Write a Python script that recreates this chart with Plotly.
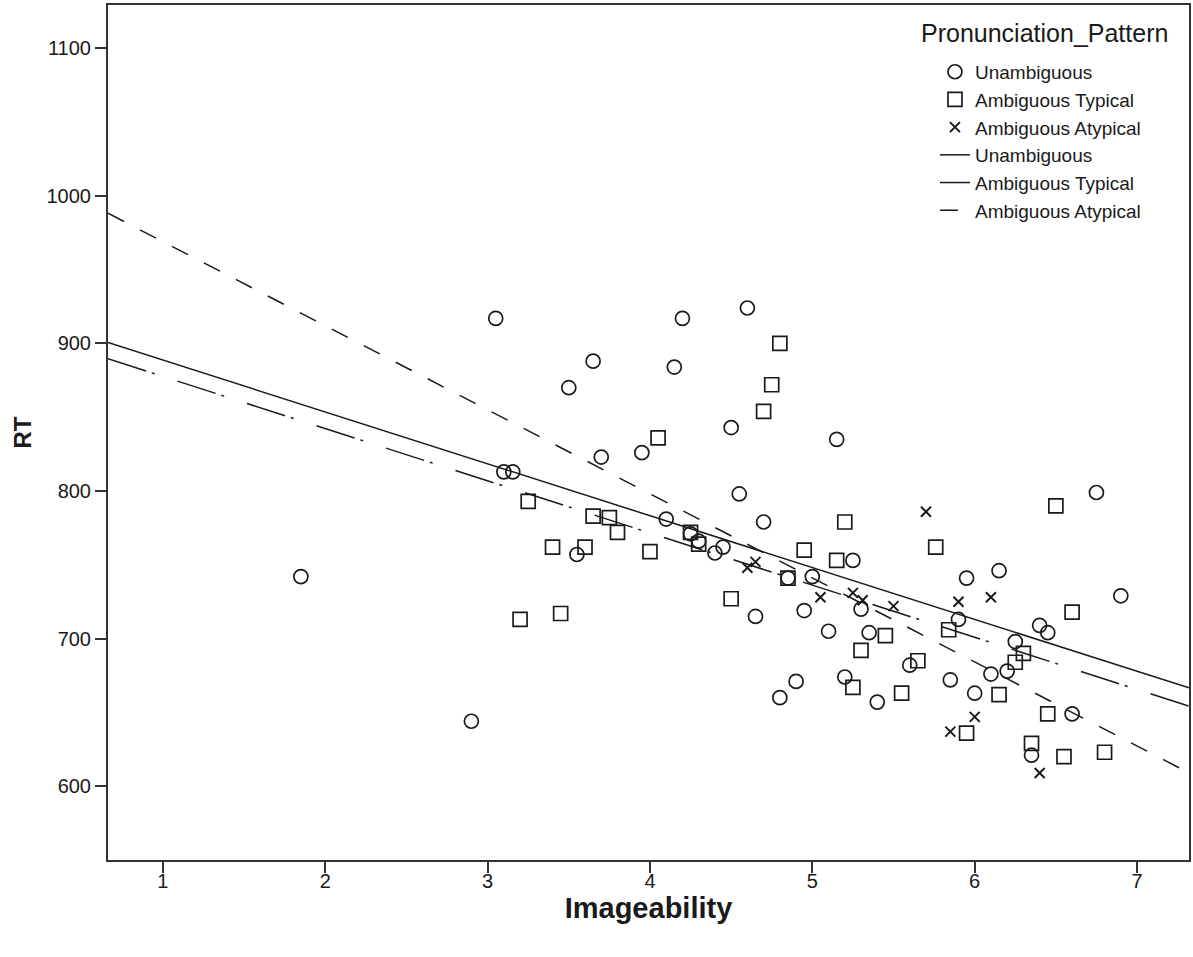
import plotly.graph_objects as go

# Unambiguous (circles)
unamb_x = [1.85, 2.90, 3.05, 3.10, 3.155, 3.50, 3.55, 3.65, 3.70, 3.95, 4.10, 4.15, 4.20, 4.25, 4.30,
           4.40, 4.45, 4.50, 4.55, 4.60, 4.65, 4.70, 4.80, 4.85, 4.90, 4.95, 5.00, 5.10, 5.15, 5.20,
           5.25, 5.30, 5.35, 5.40, 5.60, 5.85, 5.90, 5.95, 6.00, 6.10, 6.15, 6.20, 6.25, 6.35, 6.40,
           6.45, 6.60, 6.75, 6.90]
unamb_y = [742, 644, 917, 813, 813, 870, 757, 888, 823, 826, 781, 884, 917, 771, 766,
           758, 762, 843, 798, 924, 715, 779, 660, 741, 671, 719, 742, 705, 835, 674,
           753, 720, 704, 657, 682, 672, 713, 741, 663, 676, 746, 678, 698, 621, 709,
           704, 649, 799, 729]

# Ambiguous Typical (squares)
typ_x = [3.20, 3.25, 3.40, 3.45, 3.60, 3.65, 3.75, 3.80, 4.00, 4.05, 4.25, 4.30, 4.50, 4.70, 4.75,
         4.80, 4.85, 4.95, 5.15, 5.20, 5.25, 5.30, 5.45, 5.55, 5.65, 5.76, 5.84, 5.95, 6.15, 6.25,
         6.30, 6.35, 6.45, 6.50, 6.55, 6.60, 6.80]
typ_y = [713, 793, 762, 717, 762, 783, 782, 772, 759, 836, 772, 764, 727, 854, 872,
         900, 741, 760, 753, 779, 667, 692, 702, 663, 685, 762, 706, 636, 662, 684,
         690, 629, 649, 790, 620, 718, 623]

# Ambiguous Atypical (x marks)
atyp_x = [4.60, 4.65, 5.05, 5.25, 5.31, 5.50, 5.70, 5.85, 5.90, 6.00, 6.10, 6.40]
atyp_y = [748, 752, 728, 731, 726, 722, 786, 637, 725, 647, 728, 609]

# Fit lines (end points)
fit_x = [0.662, 7.32]
fit_unamb = [900.6, 666.6]
fit_typ = [889.6, 654.2]
fit_atyp = [988.2, 609.0]

series_names = ["Unambiguous", "Ambiguous Typical", "Ambiguous Atypical"]
legend_title = "Pronunciation_Pattern"
x_ticks = [1, 2, 3, 4, 5, 6, 7]
y_ticks = [600, 700, 800, 900, 1000, 1100]

FONT = "Liberation Sans, Arial, sans-serif"
INK = "#1a1a1a"

fig = go.Figure()
fig.add_trace(go.Scatter(x=unamb_x, y=unamb_y, mode="markers", name=series_names[0], legendgroup="a",
                         marker=dict(symbol="circle-open", size=14, color=INK, line=dict(width=1.7, color=INK))))
fig.add_trace(go.Scatter(x=typ_x, y=typ_y, mode="markers", name=series_names[1], legendgroup="b",
                         marker=dict(symbol="square-open", size=14, color=INK, line=dict(width=1.7, color=INK))))
fig.add_trace(go.Scatter(x=atyp_x, y=atyp_y, mode="markers", name=series_names[2], legendgroup="c",
                         marker=dict(symbol="x-thin-open", size=10, color=INK, line=dict(width=2, color=INK))))
fig.add_trace(go.Scatter(x=fit_x, y=fit_unamb, mode="lines", name=series_names[0], legendgroup="d",
                         line=dict(color=INK, width=1.5, dash="solid")))
fig.add_trace(go.Scatter(x=fit_x, y=fit_typ, mode="lines", name=series_names[1], legendgroup="e",
                         line=dict(color=INK, width=1.5, dash="40px,6px,3px,24px")))
fig.add_trace(go.Scatter(x=fit_x, y=fit_atyp, mode="lines", name=series_names[2], legendgroup="f",
                         line=dict(color=INK, width=1.5, dash="18px,18px")))

axis_common = dict(showgrid=False, zeroline=False, showline=True, linecolor="#333", linewidth=2,
                   mirror=True, ticks="outside", ticklen=11, tickwidth=2, tickcolor="#333",
                   tickfont=dict(family=FONT, size=20, color=INK))

fig.add_annotation(text=legend_title, xref="paper", yref="paper",
                   x=(920 - 108) / 1083, y=1 - (33 - 5) / 855, xanchor="left", yanchor="middle",
                   showarrow=False, font=dict(family=FONT, size=25, color=INK))

fig.update_layout(
    width=1193, height=957,
    margin=dict(l=108, r=2, t=5, b=97),
    paper_bgcolor="white", plot_bgcolor="white",
    showlegend=True,
    legend=dict(x=0.765, xanchor="left", y=0.944, yanchor="top", bgcolor="rgba(0,0,0,0)",
                borderwidth=0, traceorder="grouped", tracegroupgap=0,
                font=dict(family=FONT, size=19, color=INK)),
    xaxis=dict(range=[0.662, 7.32], tickvals=x_ticks, ticktext=[str(v) for v in x_ticks],
               ticklabelstandoff=-9,
               title=dict(text="<b>Imageability</b>", font=dict(family=FONT, size=29, color=INK), standoff=0),
               **axis_common),
    yaxis=dict(range=[550.0, 1129.3], tickvals=y_ticks, ticktext=[str(v) for v in y_ticks],
               title=dict(text="<b>RT</b>", font=dict(family=FONT, size=24, color=INK), standoff=8),
               **axis_common),
)

fig.write_html("out.html", config={"displayModeBar": False},
               post_script="document.body.style.margin='0px';")
